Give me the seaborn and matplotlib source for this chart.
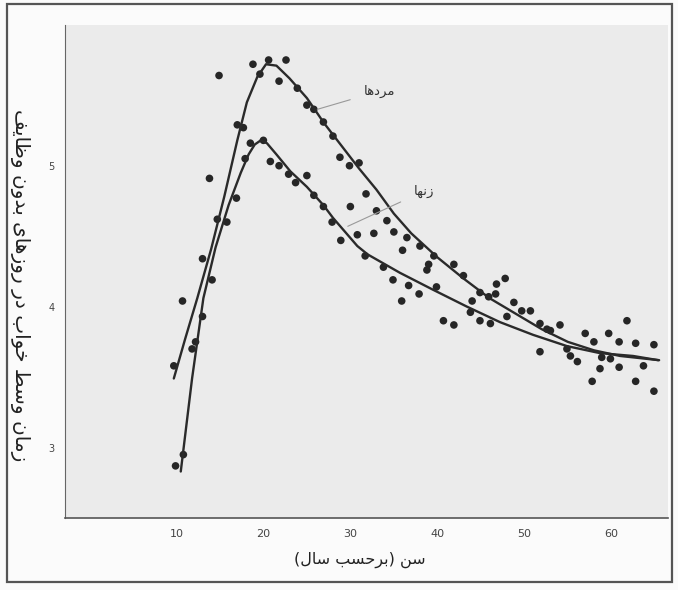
import numpy as np
import pandas as pd
import matplotlib
matplotlib.use("Agg")
import matplotlib.pyplot as plt
from matplotlib.patches import Rectangle
import seaborn as sns

# ***** data ***** #
# dots (all drawn the same way in the original)
men_age = [9.7, 10.7, 12.2, 13.0, 13.8, 14.9, 16.9, 17.0, 17.7, 18.8, 19.6, 20.6, 21.8, 22.6,
           23.9, 25.0, 25.8, 26.9, 28.0, 28.8, 29.9, 31.0, 31.8, 33.0, 34.2, 35.0, 36.0, 36.5,
           38.0, 39.6, 41.9, 43.0, 44.0, 44.9, 45.9, 46.8, 46.7, 47.8, 48.8, 49.7, 50.7, 51.8,
           52.6, 53.0, 54.1, 57.0, 58.0, 59.7, 60.9, 61.8, 62.8, 64.9]
men_val = [3.58, 4.04, 3.75, 4.34, 4.91, 5.64, 4.77, 5.29, 5.27, 5.72, 5.65, 5.75, 5.60, 5.75,
           5.55, 5.43, 5.40, 5.31, 5.21, 5.06, 5.00, 5.02, 4.80, 4.68, 4.61, 4.53, 4.40, 4.49,
           4.43, 4.36, 4.30, 4.22, 4.04, 4.10, 4.07, 4.16, 4.09, 4.20, 4.03, 3.97, 3.97, 3.88,
           3.84, 3.83, 3.87, 3.81, 3.75, 3.81, 3.75, 3.90, 3.74, 3.73]

women_age = [9.9, 10.8, 11.8, 13.0, 14.1, 14.7, 15.8, 17.9, 18.5, 20.0, 20.8, 21.8, 22.9,
             23.7, 25.0, 25.8, 26.9, 27.9, 28.9, 30.0, 30.8, 31.7, 32.7, 33.8, 34.9, 35.9,
             36.7, 37.9, 38.8, 39.0, 39.9, 40.7, 41.9, 43.8, 44.9, 46.1, 48.0, 51.8, 54.9,
             55.3, 56.1, 57.8, 58.7, 58.9, 59.9, 60.9, 62.8, 63.7, 64.9]
women_val = [2.87, 2.95, 3.70, 3.93, 4.19, 4.62, 4.60, 5.05, 5.16, 5.18, 5.03, 5.00, 4.94,
             4.88, 4.93, 4.79, 4.71, 4.60, 4.47, 4.71, 4.51, 4.36, 4.52, 4.28, 4.19, 4.04,
             4.15, 4.09, 4.26, 4.30, 4.14, 3.90, 3.87, 3.96, 3.90, 3.88, 3.93, 3.68, 3.70,
             3.65, 3.61, 3.47, 3.56, 3.64, 3.63, 3.57, 3.47, 3.58, 3.40]

# fitted curves
men_curve_age = [9.7, 11.0, 12.4, 14.0, 15.5, 17.0, 18.1, 19.3, 20.3, 21.5, 23.0, 25.0, 27.0,
                 29.0, 31.0, 33.0, 35.0, 37.0, 40.0, 43.0, 46.0, 49.0, 52.0, 55.0, 58.0, 61.0, 65.5]
men_curve_val = [3.49, 3.77, 4.06, 4.41, 4.78, 5.18, 5.45, 5.63, 5.72, 5.71, 5.62, 5.48, 5.30,
                 5.14, 4.98, 4.83, 4.66, 4.52, 4.35, 4.20, 4.06, 3.95, 3.84, 3.75, 3.69, 3.65, 3.62]

women_curve_age = [10.5, 11.8, 13.1, 14.5, 16.0, 17.4, 18.3, 19.0, 19.7, 20.4, 21.5, 23.1, 25.0,
                   26.9, 28.0, 30.8, 32.0, 35.7, 39.5, 43.4, 47.2, 51.0, 54.9, 58.7, 62.5, 65.4]
women_curve_val = [2.83, 3.49, 4.06, 4.42, 4.72, 4.95, 5.08, 5.15, 5.18, 5.16, 5.08, 4.96, 4.85,
                   4.72, 4.63, 4.43, 4.37, 4.24, 4.12, 4.00, 3.89, 3.80, 3.72, 3.67, 3.65, 3.62]

x_ticks = [10, 20, 30, 40, 50, 60]
y_ticks = [3, 4, 5]

ylabel = "زمان وسط خواب در روزهای بدون وظایف"
xlabel = "سن (برحسب سال)"
men_label = "مردها"
women_label = "زنها"

# ***** tiny persian shaper (matplotlib draws letters unjoined, left to right) ***** #
FORMS = {
    "ا": ("\uFE8D", "\uFE8E", None, None),
    "ب": ("\uFE8F", "\uFE90", "\uFE91", "\uFE92"),
    "ح": ("\uFEA1", "\uFEA2", "\uFEA3", "\uFEA4"),
    "خ": ("\uFEA5", "\uFEA6", "\uFEA7", "\uFEA8"),
    "د": ("\uFEA9", "\uFEAA", None, None),
    "ر": ("\uFEAD", "\uFEAE", None, None),
    "ز": ("\uFEAF", "\uFEB0", None, None),
    "س": ("\uFEB1", "\uFEB2", "\uFEB3", "\uFEB4"),
    "ط": ("\uFEC1", "\uFEC2", "\uFEC3", "\uFEC4"),
    "ظ": ("\uFEC5", "\uFEC6", "\uFEC7", "\uFEC8"),
    "ف": ("\uFED1", "\uFED2", "\uFED3", "\uFED4"),
    "ل": ("\uFEDD", "\uFEDE", "\uFEDF", "\uFEE0"),
    "م": ("\uFEE1", "\uFEE2", "\uFEE3", "\uFEE4"),
    "ن": ("\uFEE5", "\uFEE6", "\uFEE7", "\uFEE8"),
    "ه": ("\uFEE9", "\uFEEA", "\uFEEB", "\uFEEC"),
    "و": ("\uFEED", "\uFEEE", None, None),
    "ی": ("\uFBFC", "\uFBFD", "\uFBFE", "\uFBFF"),
}


def fa(s):
    out = []
    for i, c in enumerate(s):
        if c not in FORMS:
            out.append(c)
            continue
        prev = s[i - 1] if i > 0 else ""
        nxt = s[i + 1] if i + 1 < len(s) else ""
        join_prev = prev in FORMS and FORMS[prev][2] is not None
        join_next = FORMS[c][2] is not None and nxt in FORMS
        iso, fin, ini, med = FORMS[c]
        if join_prev and join_next:
            out.append(med)
        elif join_prev:
            out.append(fin)
        elif join_next:
            out.append(ini)
        else:
            out.append(iso)
    return "".join(reversed(out)).translate(str.maketrans("()", ")("))


# ***** plot ***** #
sns.set_style("white", {"axes.facecolor": "#ebebeb"})
plt.rcParams["font.family"] = ["DejaVu Sans"]

dots = pd.DataFrame({"age": men_age + women_age, "val": men_val + women_val})
men_curve = pd.DataFrame({"age": men_curve_age, "val": men_curve_val})
women_curve = pd.DataFrame({"age": women_curve_age, "val": women_curve_val})

fig, ax = plt.subplots(figsize=(6.78, 5.90), dpi=100)
fig.patch.set_facecolor("#fbfbfb")
fig.subplots_adjust(left=0.096, right=0.985, bottom=0.122, top=0.958)

sns.lineplot(data=men_curve, x="age", y="val", ax=ax, color="#2a2a2a", lw=1.7, estimator=None)
sns.lineplot(data=women_curve, x="age", y="val", ax=ax, color="#2a2a2a", lw=1.7, estimator=None)
sns.scatterplot(data=dots, x="age", y="val", ax=ax, color="#262626", s=30, edgecolor="none")

ax.set_xlim(-2.8, 66.5)
ax.set_ylim(2.5, 6.0)
ax.set_xticks(x_ticks)
ax.set_xticks(np.arange(0, 70, 5), minor=True)
ax.set_yticks(y_ticks)
ax.set_yticks([3.5, 4.5, 5.5], minor=True)
ax.tick_params(axis="x", which="both", direction="in", length=8, width=0.8, colors="#666",
               labelsize=8, labelcolor="#444", pad=8)
ax.tick_params(axis="y", which="both", direction="inout", length=7, width=0.8, colors="#888",
               labelsize=7, labelcolor="#444", pad=4)
ax.set_xlabel("")
ax.set_ylabel("")
sns.despine(ax=ax)
ax.spines["left"].set_color("#666")
ax.spines["bottom"].set_color("#555")
ax.spines["bottom"].set_linewidth(1.2)

# labels on the curves
ax.annotate(fa(men_label), xy=(26.2, 5.40), xytext=(33.4, 5.53), fontsize=9.5, color="#333",
            ha="center", va="center",
            arrowprops=dict(arrowstyle="-", color="#999", lw=0.8, shrinkA=8, shrinkB=0))
ax.annotate(fa(women_label), xy=(29.7, 4.57), xytext=(38.5, 4.82), fontsize=9.5, color="#333",
            ha="center", va="center",
            arrowprops=dict(arrowstyle="-", color="#999", lw=0.8, shrinkA=8, shrinkB=0))

fig.text(0.531, 0.051, fa(xlabel), fontsize=11.5, color="#222", ha="center", va="center")
fig.text(0.030, 0.517, fa(ylabel), fontsize=14.5, color="#222", ha="center", va="center",
         rotation=270)

# frame around the whole figure
fig.patches.append(Rectangle((0.0105, 0.0135), 0.981, 0.98, transform=fig.transFigure,
                             fill=False, edgecolor="#555", lw=1.6))

fig.savefig("out.png", dpi=100)
